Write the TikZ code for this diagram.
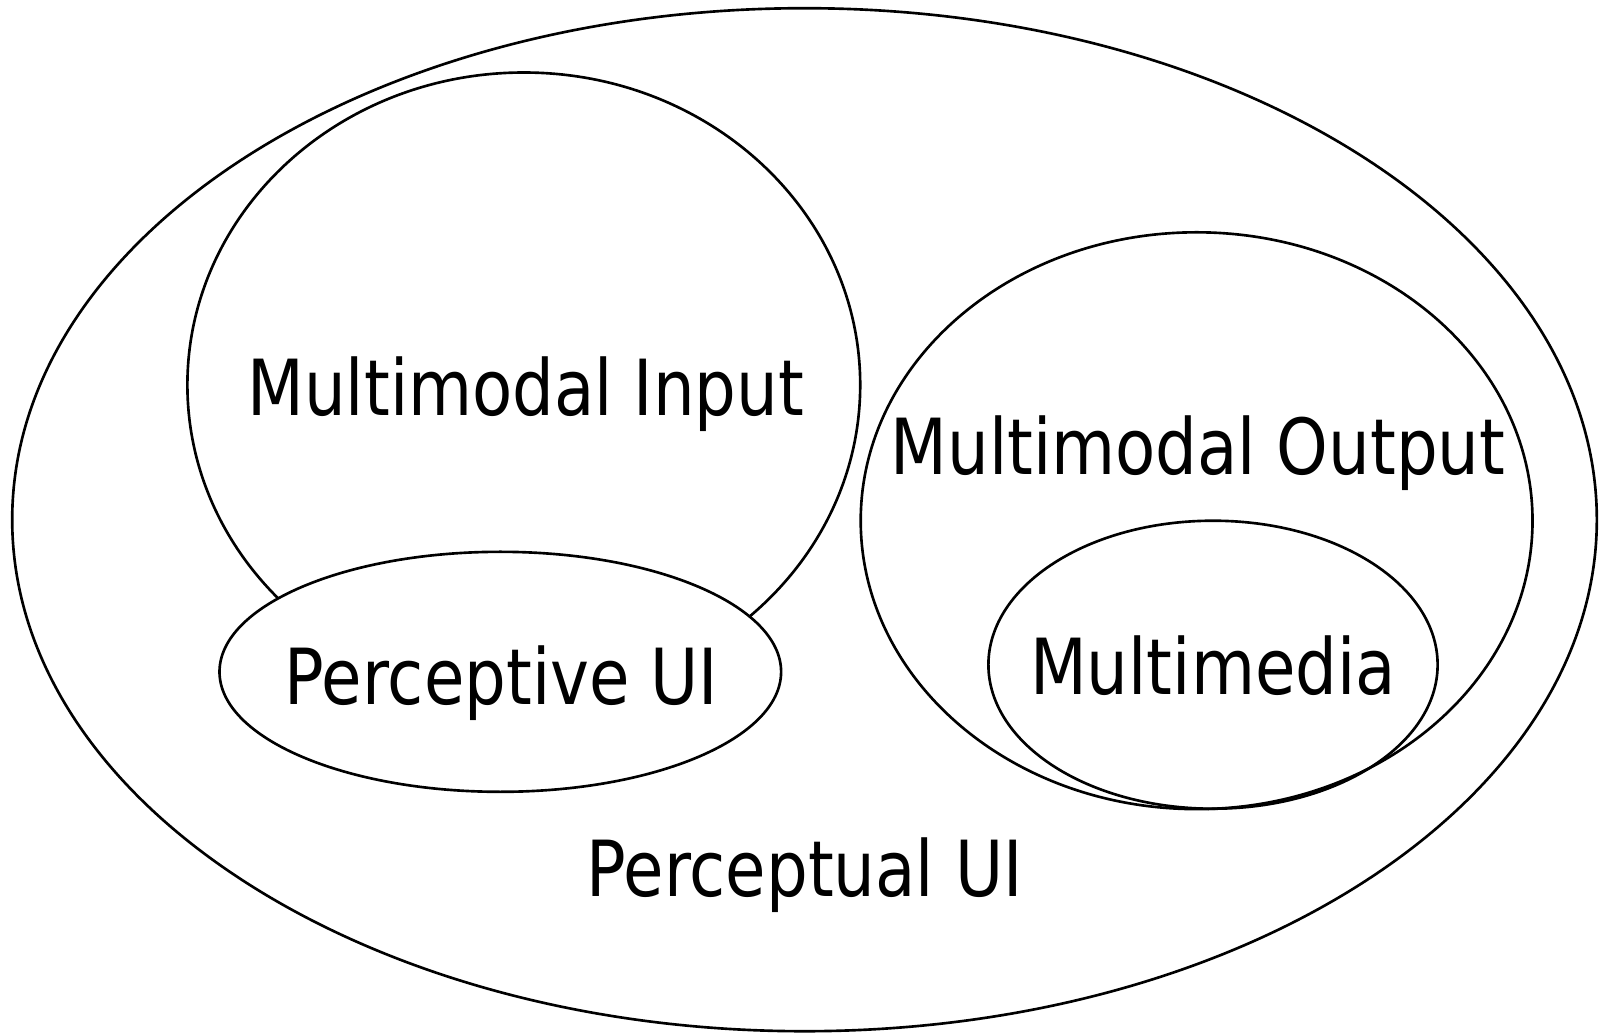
\documentclass[tikz,border=0pt]{standalone}
\usepackage{fontspec}
\setmainfont{DejaVu Sans}[FakeStretch=0.85]
\begin{document}
\begin{tikzpicture}[x=0.01cm, y=-0.01cm, line width=0.75pt,
    every node/.style={font=\fontsize{22}{26}\selectfont, anchor=base}]
            \useasboundingbox (0,0) rectangle (1601,1033);
            \coordinate (P) at (804.5,519.7);
            \coordinate (I) at (523.8,384.9);
            \coordinate (C) at (500.3,671.8);
            \coordinate (O) at (1196.6,520.7);
            \coordinate (M) at (1213,664.7);
            \draw (P) ellipse [x radius=792.3, y radius=511.5];
            \draw (I) ellipse [x radius=336.4, y radius=312.4];
            \draw[fill=white] (C) ellipse [x radius=280.8, y radius=120];
            \draw (O) ellipse [x radius=335.9, y radius=288.4];
            \draw (M) ellipse [x radius=224.6, y radius=144];
            \node (input) at (525.8,415.5) {Multimodal Input};
            \node (percui) at (501.3,704.5) {Perceptive UI};
            \node (output) at (1198,474.8) {Multimodal Output};
            \node (media) at (1213,694.3) {Multimedia};
            \node (perclui) at (804.5,896.4) {Perceptual UI};
        \end{tikzpicture}
\end{document}
